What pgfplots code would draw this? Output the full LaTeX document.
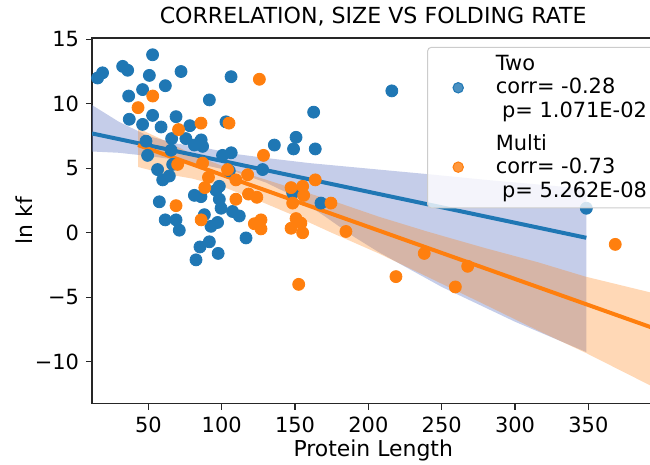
\documentclass[border=0pt]{standalone}
\usepackage{fontspec}
\setmainfont{DejaVu Sans}
\usepackage{pgfplots}
\pgfplotsset{compat=1.18}
\definecolor{tblue}{HTML}{1F77B4}
\definecolor{torange}{HTML}{FF7F0E}
\definecolor{bandblue}{RGB}{110,130,200}

\begin{document}
\begin{tikzpicture}
\begin{axis}[
    scale only axis,
    width=281.2bp, height=182.9bp,
    xmin=11.6, xmax=395, ymin=-13.26, ymax=15.1,
    axis line style={line width=0.6bp, black!85},
    tick pos=left, tick align=outside, major tick length=3bp,
    every tick/.style={line width=0.6bp, black!85},
    xtick={50,100,...,350},
    ytick={-10,-5,0,5,10,15},
    yticklabels={−10,−5,0,5,10,15},
    font=\fontsize{10.5}{12}\selectfont,
    /pgf/number format/assume math mode=true,
    title={CORRELATION, SIZE VS FOLDING RATE},
    title style={at={(axis description cs:0.5,1)}, anchor=base, yshift=1.5bp, font=\fontsize{11.1}{13}\selectfont},
    xlabel={Protein Length},
    xlabel style={at={(axis description cs:0.5,0)}, anchor=base, yshift=-26.5bp, font=\fontsize{11}{13}\selectfont},
    ylabel={ln kf},
    ylabel style={at={(axis description cs:-0.105,0.5)}, anchor=base, font=\fontsize{11}{13}\selectfont},
    legend style={at={(rel axis cs:0.5957,0.976)}, anchor=north west,
        draw=black!20, line width=0.5bp, rounded corners=2bp,
        fill=white, fill opacity=0.8, text opacity=1, draw opacity=1,
        font=\fontsize{10.5}{11.75}\selectfont, row sep=3bp,
        nodes={align=left}},
    legend cell align=left,
    legend image code/.code={
        \path (0bp,0bp) (28.7bp,0bp);
        \draw[#1, mark size=2.6bp] plot coordinates {(12.1bp,0bp)};},
]
% Two-state proteins
\addplot[only marks, mark=*, mark size=3bp, color=tblue,
    mark options={fill=tblue, draw=none}] coordinates {
    (11,6.8)(15.4,12.0)(18.8,12.4)(32.5,12.9)(35.9,12.6)(52.9,13.8)(50.7,12.2)
    (72.3,12.5)(106.4,12.1)(36.6,10.6)(46.1,11.1)(61.6,11.4)(91.6,10.3)
    (52.9,9.1)(37,8.8)(46.1,8.4)(58.7,8.2)(68.9,9.0)(78.3,8.3)(102.9,8.6)
    (65.9,7.3)(75.6,7.3)(81.4,6.8)(86,7.2)(87,6.7)(48.4,7.1)(49.5,6.0)
    (66.6,5.3)(56.3,4.9)(64.3,4.4)(59.8,4.1)(100.6,6.0)(106.5,6.2)(105.2,4.8)
    (98.4,3.6)(96.1,3.3)(81.4,2.9)(85.9,2.8)(57.5,2.4)(98.4,2.6)(99.6,1.9)
    (107.4,1.65)(112,1.3)(88.2,1.4)(61.5,1.0)(68.9,1.0)(71.1,0.2)(92.7,0.5)
    (97.2,0.8)(116.6,-0.4)(91.6,-0.7)(85.2,-1.1)(97.6,-1.6)(82.5,-2.1)
    (127.9,4.9)(135.9,6.8)(150.7,7.4)(149,6.5)(163.8,6.5)(162.7,9.35)
    (216,11.0)(167.7,2.3)(148.4,3.1)(348.6,1.9)(65.5,6.4)
};
\addlegendentry{Two\\corr= -0.28\\\hspace*{0.3em}p= 1.071E-02}
\addplot[forget plot, fill=bandblue, fill opacity=0.4, draw=none] coordinates {
    (11.6,9.9)(30,8.6)(50,7.5)(70,6.9)(90,6.55)(110,6.1)(130,5.8)(160,5.4)
    (207,4.9)(240,4.55)(280,4.1)(320,3.7)(348.6,3.4)
    (348.6,-9.25)(300,-6.9)(250,-4.2)(207,-1.5)(190,-0.3)(170,1.3)(150,2.8)
    (130,3.9)(110,4.7)(90,5.2)(70,5.65)(50,5.95)(30,6.2)(11.6,6.3)
};
% Multi-state proteins
\addplot[only marks, mark=*, mark size=3bp, color=torange,
    mark options={fill=torange, draw=none}] coordinates {
    (43,9.7)(53,10.6)(70.6,8.0)(85.9,8.5)(105,8.5)(125.7,11.9)(70,5.3)
    (87,5.4)(91,4.3)(88.5,3.5)(68.9,2.1)(86,1.0)(104,4.9)(109.7,4.1)
    (117.7,4.5)(109.7,2.6)(118.3,3.0)(124,2.75)(122.3,0.7)(126.8,1.0)
    (126.8,0.3)(128.5,6.0)(147.3,3.5)(155.2,3.6)(155.9,2.9)(148.4,2.3)
    (163.8,4.1)(174.5,2.3)(150.7,1.1)(154,0.75)(147.3,0.35)(155.2,0.0)
    (184.7,0.1)(152.5,-4.0)(238.1,-1.6)(218.8,-3.4)(267.7,-2.6)(259.3,-4.2)
    (368.3,-0.9)
};
\addlegendentry{Multi\\corr= -0.73\\\hspace*{0.3em}p= 5.262E-08}
\addplot[forget plot, fill=torange, fill opacity=0.3, draw=none] coordinates {
    (43,8.1)(60,7.2)(80,6.1)(100,5.2)(125,4.3)(150,3.4)(175,2.5)(207,1.25)
    (240,0.1)(280,-1.2)(316,-2.3)(348,-3.4)(395,-4.7)
    (395,-12.0)(348,-9.3)(316,-7.6)(280,-5.6)(240,-3.4)(207,-1.6)(175,0.0)
    (150,1.3)(125,2.5)(100,3.6)(80,4.2)(60,4.6)(43,5.1)
};
% regression lines
\addplot[forget plot, tblue, line width=2bp] coordinates {(11.6,7.7)(348.6,-0.39)};
\addplot[forget plot, torange, line width=2bp] coordinates {(43,6.8)(395,-7.42)};
\coordinate (sw) at (rel axis cs:0,0);
\end{axis}
\pgfresetboundingbox
\path ([shift={(-46bp,-30.5bp)}]sw) rectangle ([shift={(279bp,201.9bp)}]sw);
\end{tikzpicture}
\end{document}
